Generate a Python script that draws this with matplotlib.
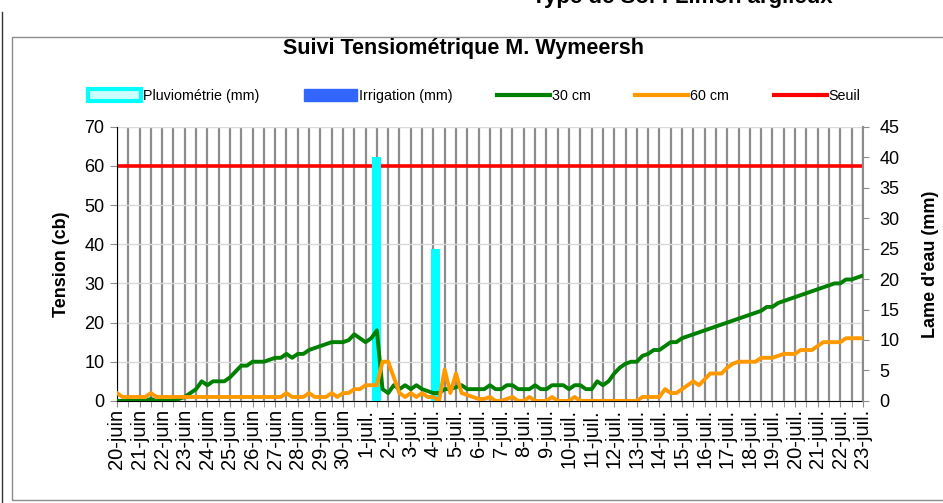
import numpy as np
import matplotlib.pyplot as plt
from matplotlib.patches import Patch, Rectangle
from matplotlib.lines import Line2D

plt.rcParams['font.family'] = ['Liberation Sans', 'DejaVu Sans']

# mesures toutes les 6 h, du 20-juin 0h au 23-juil. 0h (4 valeurs par jour)
tension_30 = [
    0, 0, 0, 0,          # 20-juin
    0, 0, 0.5, 0,        # 21-juin
    0, 0, 0, 0.5,        # 22-juin
    1, 2, 3, 5,          # 23-juin
    4, 5, 5, 5,          # 24-juin
    6, 7.5, 9, 9,        # 25-juin
    10, 10, 10, 10.5,    # 26-juin
    11, 11, 12, 11,      # 27-juin
    12, 12, 13, 13.5,    # 28-juin
    14, 14.5, 15, 15,    # 29-juin
    15, 15.5, 17, 16,    # 30-juin
    15, 16, 18, 3,       # 1-juil.
    2, 4, 3, 4,          # 2-juil.
    3, 4, 3, 2.5,        # 3-juil.
    2, 2, 3, 3,          # 4-juil.
    3.5, 4, 3, 3,        # 5-juil.
    3, 3, 4, 3,          # 6-juil.
    3, 4, 4, 3,          # 7-juil.
    3, 3, 4, 3,          # 8-juil.
    3, 4, 4, 4,          # 9-juil.
    3, 4, 4, 3,          # 10-juil.
    3, 5, 4, 5,          # 11-juil.
    7, 8.5, 9.5, 10,     # 12-juil.
    10, 11.5, 12, 13,    # 13-juil.
    13, 14, 15, 15,      # 14-juil.
    16, 16.5, 17, 17.5,  # 15-juil.
    18, 18.5, 19, 19.5,  # 16-juil.
    20, 20.5, 21, 21.5,  # 17-juil.
    22, 22.5, 23, 24,    # 18-juil.
    24, 25, 25.5, 26,    # 19-juil.
    26.5, 27, 27.5, 28,  # 20-juil.
    28.5, 29, 29.5, 30,  # 21-juil.
    30, 31, 31, 31.5,    # 22-juil.
    32,                  # 23-juil.
]

tension_60 = [
    2, 1, 1, 1,
    1, 1, 2, 1,
    1, 1, 1, 1,
    1, 1, 1, 1,
    1, 1, 1, 1,
    1, 1, 1, 1,
    1, 1, 1, 1,
    1, 1, 2, 1,
    1, 1, 2, 1,
    1, 1, 2, 1,
    2, 2, 3, 3,
    4, 4, 4, 10,
    10, 6, 2, 1,
    2, 1, 2, 1,
    1, 0, 8, 2,
    7, 2, 1.5, 1,
    0.5, 0.5, 1, 0,
    0, 0.5, 1, 0,
    0, 1, 0, 0,
    0, 1, 0, 0,
    0, 1, 0, 0,
    0, 0, 0, 0,
    0, 0, 0, 0,
    0, 1, 1, 1,
    1, 3, 2, 2,
    3, 4, 5, 4,
    5.5, 7, 7, 7,
    8.5, 9.5, 10, 10,
    10, 10, 11, 11,
    11, 11.5, 12, 12,
    12, 13, 13, 13,
    14, 15, 15, 15,
    15, 16, 16, 16,
    16,
]

pluvio_jour = [11.5, 14.1]   # jours depuis le 20-juin
pluvio_mm = [40, 25]
irrigation_jour = []
irrigation_mm = []
seuil = 60

jours = [f"{d}-juin" for d in range(20, 31)] + [f"{d}-juil." for d in range(1, 24)]

t = np.arange(len(tension_30)) / 4

fig = plt.figure(figsize=(9.43, 5.03), dpi=100)

# cadre du graphique
fig.add_artist(Rectangle((12 / 943, 0.006), 0.99, 1 - 37 / 503 - 0.006,
                         transform=fig.transFigure, fill=False,
                         edgecolor='#8c8c8c', lw=1))
fig.add_artist(Line2D([2 / 943, 2 / 943], [0, 1 - 12 / 503], color='#333333', lw=1))

# titre coupé en haut de l'image
fig.text(532 / 943, 1 - 3 / 503, 'Type de Sol : Limon argileux', ha='left',
         va='baseline', fontsize=16, fontweight='bold')

ax = fig.add_axes([0.124, 0.203, 0.791, 0.545])
ax.set_zorder(1)

ax2 = ax.twinx()
ax2.set_zorder(2)
ax3 = ax.twinx()
ax3.set_zorder(3)
ax3.patch.set_visible(False)

# axe gauche : grille + seuil
ax.set_xlim(0, len(jours) - 1)
ax.set_ylim(0, 70)
ax.set_yticks(np.arange(0, 71, 10))
ax.set_xticks(np.arange(len(jours)))
ax.set_xticks(np.arange(0, len(jours) - 1, 0.5), minor=True)
ax.set_xticklabels(jours, rotation=90, fontsize=14.5)
ax.set_axisbelow(True)
ax.grid(axis='y', color='#d9d9d9', lw=1)
ax.grid(axis='x', which='both', color='#8c8c8c', lw=1.6)
ax.plot(t, np.full(len(t), seuil), color='#ff0000', lw=2.6, zorder=2)
ax.tick_params(axis='y', length=5, color='#8c8c8c', labelsize=13, pad=4)
ax.tick_params(axis='x', which='both', length=4, color='#8c8c8c', pad=2)
for s in ['top', 'right']:
    ax.spines[s].set_visible(False)
ax.spines['left'].set_color('black')
ax.spines['bottom'].set_color('black')
ax.set_ylabel('Tension (cb)', fontsize=13, fontweight='bold')
ax.yaxis.set_label_coords(-0.063, 0.5)

# axe droit : lame d'eau
ax2.set_ylim(0, 45)
ax2.set_yticks(np.arange(0, 46, 5))
ax2.bar(pluvio_jour, pluvio_mm, width=0.4, color='#00ffff', zorder=2)
ax2.bar(irrigation_jour, irrigation_mm, width=0.4, color='#3366ff', zorder=2)
ax2.tick_params(axis='y', length=4, color='#8c8c8c', labelsize=13, pad=8)
for s in ['top', 'left', 'bottom']:
    ax2.spines[s].set_visible(False)
ax2.spines['right'].set_color('#8c8c8c')
ax2.spines['right'].set_linewidth(1.5)
ax2.set_ylabel("Lame d'eau (mm)", fontsize=13, fontweight='bold')
ax2.yaxis.set_label_coords(1.079, 0.5)

# tensiomètres
ax3.set_ylim(0, 70)
ax3.plot(t, tension_30, color='#008000', lw=2.8)
ax3.plot(t, tension_60, color='#ff9900', lw=2.8)
ax3.yaxis.set_visible(False)
for s in ax3.spines.values():
    s.set_visible(False)

fig.text(0.491, 0.903, 'Suivi Tensiométrique M. Wymeersh', ha='center',
         va='center', fontsize=15.5, fontweight='bold')

handles = [
    Patch(facecolor='#ccffff', edgecolor='#00ffff', lw=3),
    Patch(facecolor='#3366ff', edgecolor='#3366ff'),
    Line2D([], [], color='#008000', lw=3),
    Line2D([], [], color='#ff9900', lw=3),
    Line2D([], [], color='#ff0000', lw=3),
]
labels = ['Pluviométrie (mm)', 'Irrigation (mm)', '30 cm', '60 cm', 'Seuil']
fig.legend(handles, labels, loc='center', bbox_to_anchor=(0.503, 0.809),
           ncol=5, frameon=False, fontsize=10.3, handlelength=3.7,
           handleheight=0.9, handletextpad=0.15, columnspacing=3.1)

fig.savefig('out.png', dpi=100)
